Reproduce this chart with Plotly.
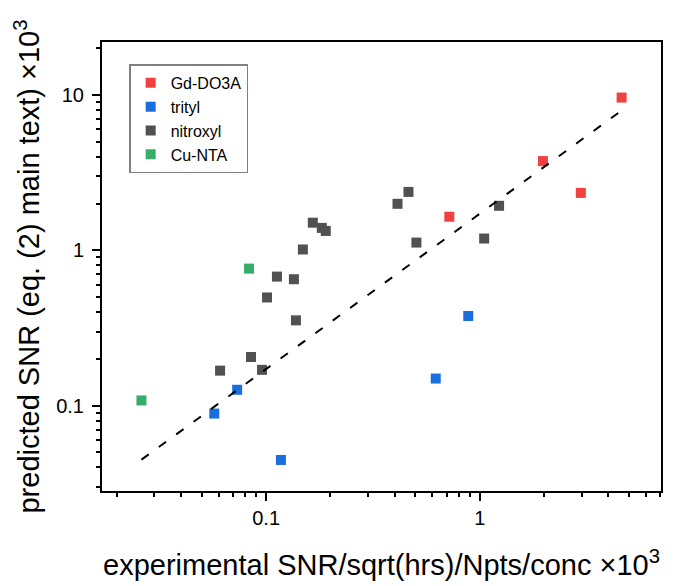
import plotly.graph_objects as go

# Measured SNR values (x: experimental, y: predicted), both in units of 10^3
gd_x = [4.61, 1.975, 2.97, 0.720]
gd_y = [9.61, 3.75, 2.34, 1.644]

trityl_x = [0.0572, 0.0732, 0.1173, 0.883, 0.622]
trityl_y = [0.0889, 0.1265, 0.0447, 0.3776, 0.1494]

nitroxyl_x = [0.0609, 0.0850, 0.0957, 0.1379, 0.101, 0.1124, 0.1349, 0.1486,
              0.1654, 0.1822, 0.1902, 0.412, 0.4637, 0.505, 1.048, 1.231]
nitroxyl_y = [0.168, 0.2056, 0.170, 0.354, 0.497, 0.677, 0.651, 1.012,
              1.505, 1.393, 1.332, 1.991, 2.375, 1.121, 1.19, 1.933]

cunta_x = [0.0261, 0.0832]
cunta_y = [0.108, 0.762]

# Proportional trend line (predicted = 1.72 x experimental)
fit_x = [0.0261, 4.61]
fit_y = [0.0449, 7.93]

series = [
    ("Gd-DO3A", gd_x, gd_y, "#F14040"),
    ("trityl", trityl_x, trityl_y, "#1A6FDF"),
    ("nitroxyl", nitroxyl_x, nitroxyl_y, "#515151"),
    ("Cu-NTA", cunta_x, cunta_y, "#37AD6B"),
]

FONT = "Liberation Sans, Arial, sans-serif"

fig = go.Figure()
for name, xs, ys, color in series:
    fig.add_trace(go.Scatter(
        x=xs, y=ys, mode="markers", name=name,
        marker=dict(symbol="square", size=10, color=color, line=dict(width=0)),
    ))

fig.add_trace(go.Scatter(
    x=fit_x, y=fit_y, mode="lines", showlegend=False,
    line=dict(color="black", width=2, dash="9px,12.5px"),
))

axis_common = dict(
    type="log",
    showline=True, linecolor="black", linewidth=2, mirror=True,
    showgrid=False, zeroline=False,
    ticks="outside", ticklen=8, tickwidth=1.5, tickcolor="black",
    dtick=1,
    tickfont=dict(family=FONT, size=20, color="black"),
    minor=dict(ticks="outside", ticklen=4, tickwidth=1.5, tickcolor="black",
               dtick="D1", showgrid=False),
)

fig.update_layout(
    width=673, height=586,
    margin=dict(l=102, r=10, t=42, b=92),
    paper_bgcolor="white", plot_bgcolor="white",
    font=dict(family=FONT, color="black"),
    xaxis=dict(
        **axis_common,
        range=[-1.768, 0.848],
        title=dict(text="experimental SNR/sqrt(hrs)/Npts/conc ×10<sup>3</sup>",
                   font=dict(family=FONT, size=29, color="black"), standoff=27),
    ),
    yaxis=dict(
        **axis_common,
        range=[-1.5495, 1.3406],
        ticklabelstandoff=4,
        title=dict(text="predicted SNR (eq. (2) main text) ×10<sup>3</sup>",
                   font=dict(family=FONT, size=29, color="black"), standoff=8),
    ),
    legend=dict(
        x=0.0486, y=0.950, xanchor="left", yanchor="top",
        bgcolor="white", bordercolor="#808080", borderwidth=1.5,
        font=dict(family=FONT, size=16, color="black"),
        tracegroupgap=0,
    ),
)

fig.write_html("out.html")
